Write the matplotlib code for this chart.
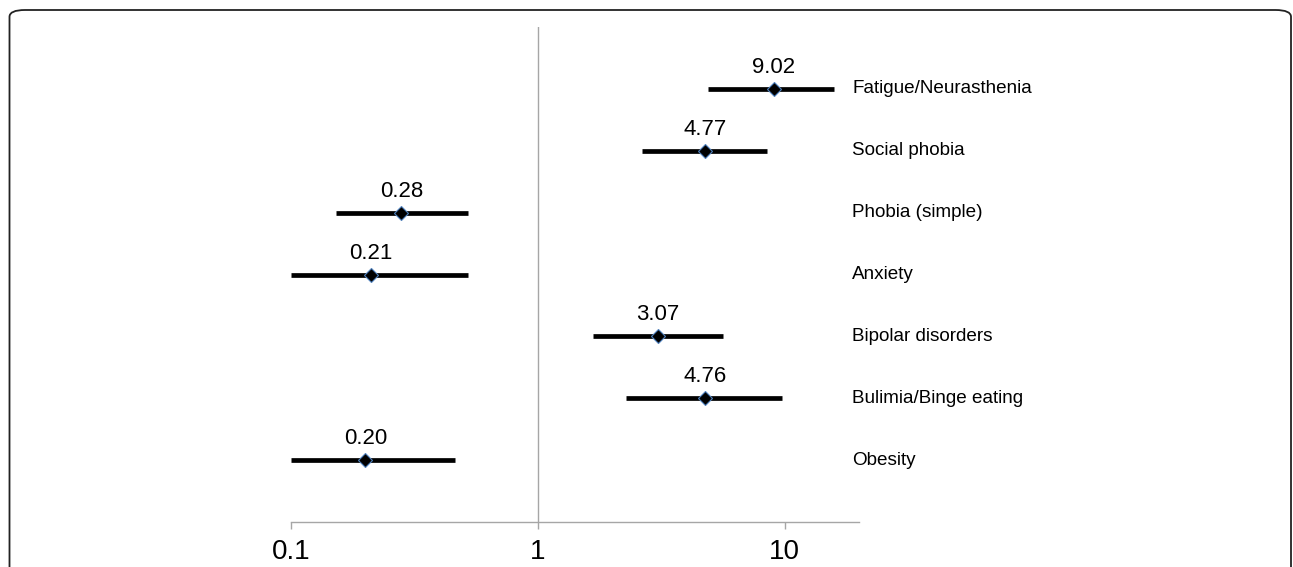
import matplotlib
matplotlib.use("Agg")
import matplotlib.pyplot as plt
from matplotlib.patches import FancyBboxPatch

plt.rcParams['font.family'] = ['Liberation Sans', 'DejaVu Sans']

categories = ["Fatigue/Neurasthenia", "Social phobia", "Phobia (simple)", "Anxiety",
              "Bipolar disorders", "Bulimia/Binge eating", "Obesity"]
odds = [9.02, 4.77, 0.28, 0.21, 3.07, 4.76, 0.20]
ci_low = [4.89, 2.65, 0.152, 0.10, 1.67, 2.28, 0.10]
ci_high = [15.9, 8.46, 0.52, 0.52, 5.62, 9.79, 0.463]
tick_vals = [0.1, 1, 10]
tick_labels = ["0.1", "1", "10"]

fig = plt.figure(figsize=(12.93, 5.67), dpi=100)
ax = fig.add_axes([291/1293, 45/567, (859-291)/1293, (522-27)/567])

n = len(categories)
ys = [n - i for i in range(n)]
grey = "#a6a6a6"

ax.axvline(1, color=grey, lw=1.0, zorder=1)

for y, o, lo, hi, cat in zip(ys, odds, ci_low, ci_high, categories):
    ax.plot([lo, hi], [y, y], color="black", lw=3.4, solid_capstyle="butt", zorder=2)
    ax.plot([o], [y], marker="D", markersize=6.8, markerfacecolor="black",
            markeredgecolor="#4f81bd", markeredgewidth=0.8, linestyle="none", zorder=3)
    ax.annotate(f"{o:.2f}", xy=(o, y), xytext=(0, 11.5), textcoords="offset points",
                ha="center", va="baseline", fontsize=16)
    ax.annotate(cat, xy=(1, y), xycoords=("axes fraction", "data"), xytext=(-7, 0),
                textcoords="offset pixels", ha="left", va="center", fontsize=13.6,
                annotation_clip=False)

ax.set_xscale("log")
ax.set_xlim(0.1, 20)
ax.set_ylim(0, 8)
ax.set_xticks(tick_vals)
ax.set_xticklabels(tick_labels)
ax.xaxis.set_minor_locator(matplotlib.ticker.NullLocator())
ax.set_yticks([])
for s in ["top", "right", "left"]:
    ax.spines[s].set_visible(False)
ax.spines["bottom"].set_color(grey)
ax.spines["bottom"].set_linewidth(1.0)
ax.tick_params(axis="x", colors=grey, length=5, width=1.0, labelsize=20,
               labelcolor="black", pad=7.5)
ax.patch.set_visible(False)

border = FancyBboxPatch((9.5/1293, -0.2), (1291-9.5)/1293, 1.2 - 10/567,
                        boxstyle="round,pad=0,rounding_size=0.012",
                        transform=fig.transFigure, fill=False, edgecolor="#222222",
                        linewidth=1.3, clip_on=False)
fig.patches.append(border)

fig.savefig("out.png", dpi=100)
